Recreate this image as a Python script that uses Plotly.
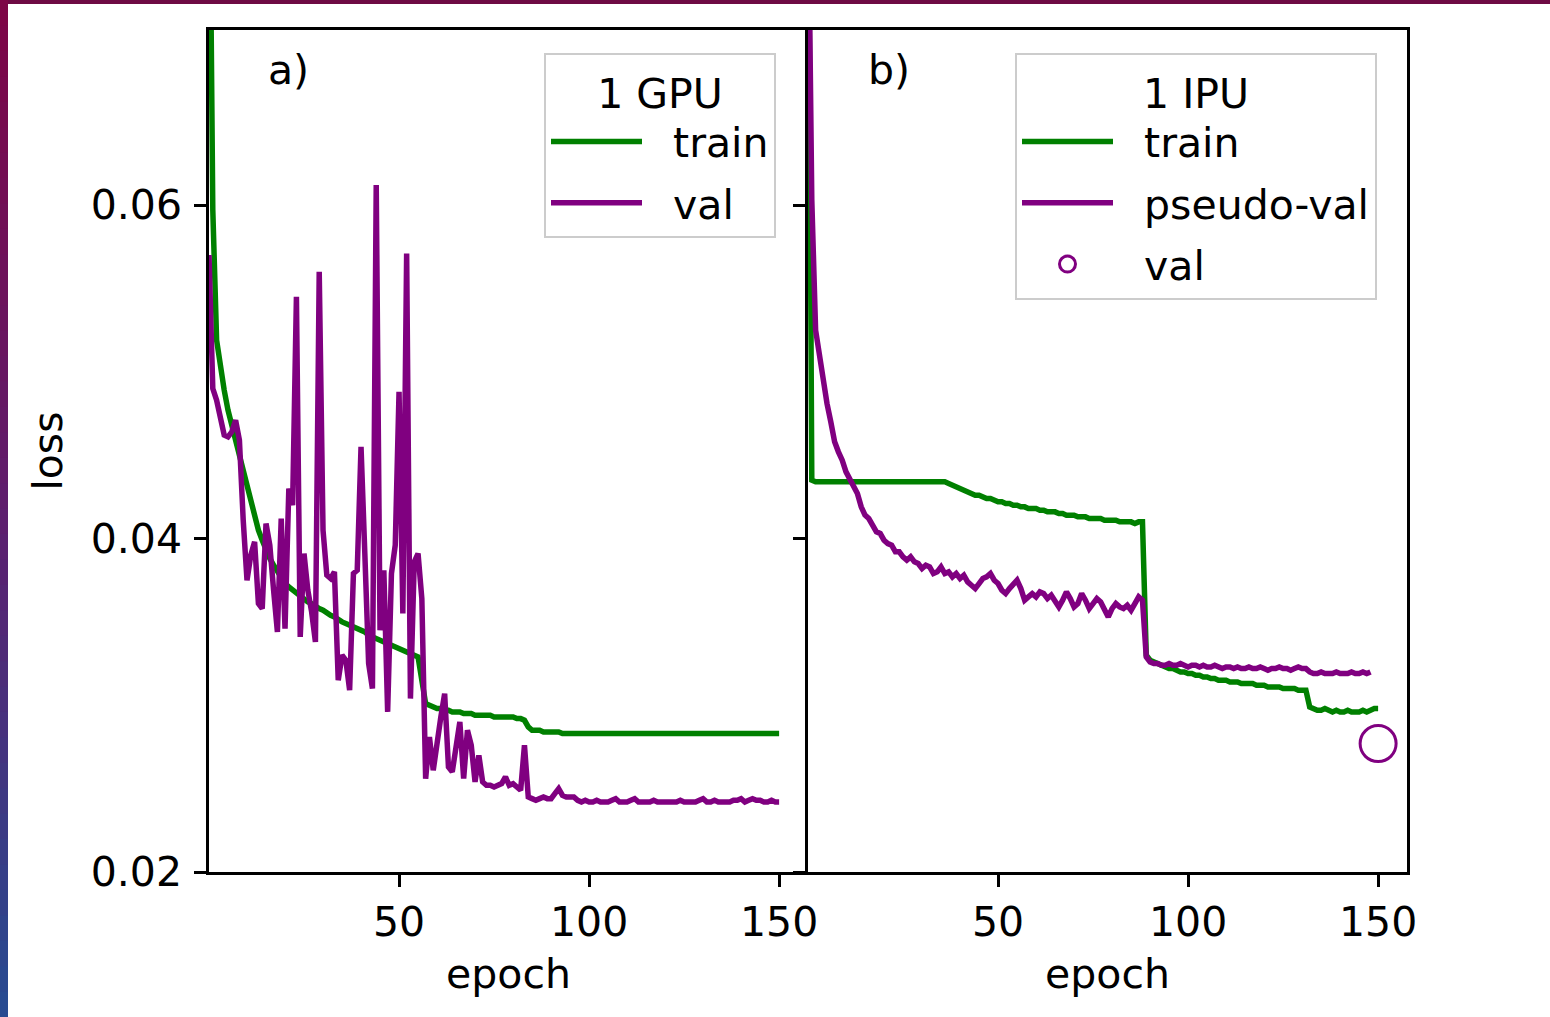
import plotly.graph_objects as go
import numpy as np

# ---------------- data ----------------
gpu_train = [
    0.0850, 0.0597, 0.0519, 0.0501, 0.0489, 0.0477, 0.0468, 0.0459, 0.0447, 0.0438,
    0.0429, 0.0420, 0.0412, 0.0405, 0.0399, 0.0393, 0.0388, 0.0384, 0.0380, 0.0376,
    0.0373, 0.0371, 0.0369, 0.0367, 0.0366, 0.0364, 0.0362, 0.0361, 0.0359, 0.0358,
    0.0357, 0.0355, 0.0354, 0.0353, 0.0351, 0.0350, 0.0349, 0.0348, 0.0347, 0.0346,
    0.0345, 0.0344, 0.0342, 0.0341, 0.0340, 0.0339, 0.0338, 0.0337, 0.0336, 0.0335,
    0.0334, 0.0333, 0.0332, 0.0331, 0.0330, 0.0329, 0.0315, 0.0301, 0.0300, 0.0299,
    0.0298, 0.0298, 0.0297, 0.0297, 0.0296, 0.0296, 0.0296, 0.0295, 0.0295, 0.0295,
    0.0294, 0.0294, 0.0294, 0.0294, 0.0294, 0.0293, 0.0293, 0.0293, 0.0293, 0.0293,
    0.0293, 0.0292, 0.0292, 0.0291, 0.0287, 0.0285, 0.0285, 0.0285, 0.0284, 0.0284,
    0.0284, 0.0284, 0.0284, 0.0283, 0.0283, 0.0283, 0.0283, 0.0283, 0.0283, 0.0283,
    0.0283, 0.0283, 0.0283, 0.0283, 0.0283, 0.0283, 0.0283, 0.0283, 0.0283, 0.0283,
    0.0283, 0.0283, 0.0283, 0.0283, 0.0283, 0.0283, 0.0283, 0.0283, 0.0283, 0.0283,
    0.0283, 0.0283, 0.0283, 0.0283, 0.0283, 0.0283, 0.0283, 0.0283, 0.0283, 0.0283,
    0.0283, 0.0283, 0.0283, 0.0283, 0.0283, 0.0283, 0.0283, 0.0283, 0.0283, 0.0283,
    0.0283, 0.0283, 0.0283, 0.0283, 0.0283, 0.0283, 0.0283, 0.0283, 0.0283, 0.0283,
    0.0283,
]

gpu_val = [
    0.0570, 0.0490, 0.0483, 0.0471, 0.0462, 0.0461, 0.0464, 0.0471, 0.0459, 0.0411,
    0.0375, 0.0390, 0.0398, 0.0361, 0.0358, 0.0409, 0.0396, 0.0369, 0.0344, 0.0412,
    0.0346, 0.0430, 0.0420, 0.0545, 0.0341, 0.0391, 0.0369, 0.0356, 0.0338, 0.0560,
    0.0405, 0.0378, 0.0376, 0.0380, 0.0315, 0.0330, 0.0327, 0.0309, 0.0379, 0.0381,
    0.0455, 0.0391, 0.0325, 0.0310, 0.0612, 0.0345, 0.0381, 0.0296, 0.0379, 0.0396,
    0.0488, 0.0355, 0.0571, 0.0304, 0.0386, 0.0391, 0.0364, 0.0256, 0.0281, 0.0261,
    0.0279, 0.0293, 0.0307, 0.0263, 0.0260, 0.0276, 0.0290, 0.0256, 0.0285, 0.0276,
    0.0254, 0.0270, 0.0254, 0.0252, 0.0252, 0.0251, 0.0252, 0.0253, 0.0257, 0.0252,
    0.0253, 0.0251, 0.0249, 0.0276, 0.0245, 0.0244, 0.0243, 0.0244, 0.0245, 0.0244,
    0.0244, 0.0247, 0.0250, 0.0246, 0.0245, 0.0245, 0.0245, 0.0243, 0.0242, 0.0243,
    0.0242, 0.0242, 0.0243, 0.0242, 0.0242, 0.0242, 0.0243, 0.0244, 0.0242, 0.0242,
    0.0242, 0.0243, 0.0244, 0.0242, 0.0242, 0.0242, 0.0242, 0.0243, 0.0242, 0.0242,
    0.0242, 0.0242, 0.0242, 0.0242, 0.0243, 0.0242, 0.0242, 0.0242, 0.0242, 0.0243,
    0.0244, 0.0242, 0.0242, 0.0243, 0.0242, 0.0242, 0.0242, 0.0242, 0.0243, 0.0243,
    0.0244, 0.0242, 0.0243, 0.0244, 0.0243, 0.0243, 0.0242, 0.0242, 0.0243, 0.0242,
    0.0242,
]

ipu_train = [
    0.0850, 0.0435, 0.0434, 0.0434, 0.0434, 0.0434, 0.0434, 0.0434, 0.0434, 0.0434,
    0.0434, 0.0434, 0.0434, 0.0434, 0.0434, 0.0434, 0.0434, 0.0434, 0.0434, 0.0434,
    0.0434, 0.0434, 0.0434, 0.0434, 0.0434, 0.0434, 0.0434, 0.0434, 0.0434, 0.0434,
    0.0434, 0.0434, 0.0434, 0.0434, 0.0434, 0.0434, 0.0434, 0.0433, 0.0432, 0.0431,
    0.0430, 0.0429, 0.0428, 0.0427, 0.0426, 0.0426, 0.0425, 0.0424, 0.0424, 0.0423,
    0.0422, 0.0422, 0.0421, 0.0421, 0.0420, 0.0420, 0.0419, 0.0419, 0.0418, 0.0418,
    0.0418, 0.0417, 0.0417, 0.0416, 0.0416, 0.0416, 0.0415, 0.0415, 0.0414, 0.0414,
    0.0414, 0.0413, 0.0413, 0.0413, 0.0412, 0.0412, 0.0412, 0.0412, 0.0411, 0.0411,
    0.0411, 0.0411, 0.0410, 0.0410, 0.0410, 0.0410, 0.0409, 0.0410, 0.0410, 0.0330,
    0.0327, 0.0326, 0.0325, 0.0324, 0.0323, 0.0322, 0.0322, 0.0321, 0.0320, 0.0320,
    0.0319, 0.0319, 0.0318, 0.0318, 0.0317, 0.0317, 0.0316, 0.0316, 0.0315, 0.0315,
    0.0315, 0.0314, 0.0314, 0.0314, 0.0313, 0.0313, 0.0313, 0.0313, 0.0312, 0.0312,
    0.0312, 0.0311, 0.0311, 0.0311, 0.0311, 0.0310, 0.0310, 0.0310, 0.0310, 0.0309,
    0.0309, 0.0309, 0.0299, 0.0298, 0.0297, 0.0297, 0.0298, 0.0297, 0.0296, 0.0297,
    0.0296, 0.0296, 0.0297, 0.0296, 0.0296, 0.0296, 0.0297, 0.0296, 0.0297, 0.0298,
    0.0298,
]

ipu_pseudo_val = [
    0.0800, 0.0603, 0.0525, 0.0509, 0.0493, 0.0481, 0.0470, 0.0458, 0.0452, 0.0447,
    0.0440, 0.0436, 0.0432, 0.0427, 0.0419, 0.0414, 0.0412, 0.0408, 0.0404, 0.0403,
    0.0399, 0.0397, 0.0396, 0.0392, 0.0392, 0.0389, 0.0387, 0.0389, 0.0386, 0.0385,
    0.0382, 0.0384, 0.0383, 0.0379, 0.0380, 0.0383, 0.0379, 0.0380, 0.0377, 0.0379,
    0.0376, 0.0378, 0.0374, 0.0372, 0.0370, 0.0373, 0.0376, 0.0377, 0.0379, 0.0375,
    0.0373, 0.0369, 0.0367, 0.0370, 0.0373, 0.0375, 0.0370, 0.0363, 0.0365, 0.0367,
    0.0365, 0.0368, 0.0367, 0.0364, 0.0366, 0.0363, 0.0359, 0.0363, 0.0368, 0.0364,
    0.0359, 0.0361, 0.0367, 0.0363, 0.0358, 0.0361, 0.0364, 0.0362, 0.0357, 0.0353,
    0.0358, 0.0361, 0.0359, 0.0358, 0.0360, 0.0357, 0.0361, 0.0365, 0.0363, 0.0329,
    0.0326, 0.0325, 0.0325, 0.0324, 0.0324, 0.0325, 0.0324, 0.0324, 0.0325, 0.0324,
    0.0323, 0.0324, 0.0324, 0.0323, 0.0324, 0.0323, 0.0323, 0.0324, 0.0323, 0.0322,
    0.0323, 0.0323, 0.0322, 0.0323, 0.0322, 0.0322, 0.0323, 0.0322, 0.0322, 0.0323,
    0.0322, 0.0321, 0.0322, 0.0322, 0.0323, 0.0322, 0.0322, 0.0321, 0.0322, 0.0323,
    0.0322, 0.0322, 0.0320, 0.0319, 0.0319, 0.0320, 0.0319, 0.0319, 0.0319, 0.0320,
    0.0319, 0.0319, 0.0319, 0.0320, 0.0319, 0.0319, 0.0320, 0.0319, 0.0320,
]

ipu_val_epoch = [150]
ipu_val = [0.0277]

x_ticks = [50, 100, 150]
y_ticks = [0.02, 0.04, 0.06]

# ---------------- styling ----------------
FONT = "DejaVu Sans"
GREEN = "#008000"
PURPLE = "#800080"
LW = 5.5
FS = 41
GAP = "\u00a0\u00a0"  # extra room between legend sample and its label

W, H = 1550, 1017
ML, MR, MT, MB = 209, 143, 30, 145
PW, PH = W - ML - MR, H - MT - MB


def px_x(px):
    return (px - ML) / PW


def px_y(py):
    return (H - MB - py) / PH


fig = go.Figure()

fig.add_trace(go.Scatter(x=list(range(len(gpu_train))), y=gpu_train, mode="lines",
                         line=dict(color=GREEN, width=LW), name=GAP + "train",
                         xaxis="x", yaxis="y", legend="legend", legendgroup="a1"))
fig.add_trace(go.Scatter(x=list(range(len(gpu_val))), y=gpu_val, mode="lines",
                         line=dict(color=PURPLE, width=LW), name=GAP + "val",
                         xaxis="x", yaxis="y", legend="legend", legendgroup="a2"))

fig.add_trace(go.Scatter(x=list(range(len(ipu_train))), y=ipu_train, mode="lines",
                         line=dict(color=GREEN, width=LW), name=GAP + "train",
                         xaxis="x2", yaxis="y2", legend="legend2", legendgroup="b1"))
fig.add_trace(go.Scatter(x=list(range(len(ipu_pseudo_val))), y=ipu_pseudo_val, mode="lines",
                         line=dict(color=PURPLE, width=LW), name=GAP + "pseudo-val",
                         xaxis="x2", yaxis="y2", legend="legend2", legendgroup="b2"))
fig.add_trace(go.Scatter(x=ipu_val_epoch, y=ipu_val, mode="markers",
                         marker=dict(symbol="circle-open", size=36, color=PURPLE,
                                     line=dict(width=3, color=PURPLE)),
                         name=GAP + "val", xaxis="x2", yaxis="y2", legend="legend2",
                         legendgroup="b3", cliponaxis=False))

axis_common = dict(
    ticks="outside", ticklen=12, tickwidth=2.5, tickcolor="black",
    showline=True, linecolor="black", linewidth=2.5,
    showgrid=False, zeroline=False,
    tickfont=dict(family=FONT, size=FS, color="black"),
)
title_font = dict(family=FONT, size=FS, color="black")

legend_common = dict(
    xanchor="left", yanchor="top", font=title_font,
    bgcolor="rgba(255,255,255,0.8)", bordercolor="#cccccc", borderwidth=2,
    itemwidth=91, tracegroupgap=5,
)

fig.update_layout(
    width=W, height=H,
    margin=dict(l=ML, r=MR, t=MT, b=MB, pad=0),
    paper_bgcolor="white", plot_bgcolor="white",
    font=dict(family=FONT, color="black"),
    xaxis=dict(domain=[0, 0.5], range=[0, 157.6], tickvals=x_ticks, anchor="y", mirror=True,
               title=dict(text="epoch", font=title_font, standoff=15), **axis_common),
    xaxis2=dict(domain=[0.5, 1], range=[0, 157.6], tickvals=x_ticks, anchor="y2", mirror=True,
                title=dict(text="epoch", font=title_font, standoff=15), **axis_common),
    yaxis=dict(range=[0.02, 0.0705], tickvals=y_ticks, tickformat=".2f", anchor="x",
               mirror=False, ticklabelstandoff=4,
               title=dict(text="loss", font=title_font, standoff=16), **axis_common),
    yaxis2=dict(range=[0.02, 0.0705], tickvals=y_ticks, anchor="x2", matches="y",
                mirror=True, showticklabels=False, **axis_common),
    legend=dict(x=px_x(544), y=px_y(53),
                title=dict(text="1 GPU", side="top center", font=title_font),
                **legend_common),
    legend2=dict(x=px_x(1015), y=px_y(53),
                 title=dict(text="1 IPU", side="top center", font=title_font),
                 **legend_common),
    annotations=[
        dict(text="a)", xref="x domain", yref="y domain", x=(266 - 209) / 599, y=px_y(70),
             xanchor="left", yanchor="middle", showarrow=False,
             font=dict(family=FONT, size=FS, color="black")),
        dict(text="b)", xref="x2 domain", yref="y2 domain", x=(866 - 808) / 599, y=px_y(70),
             xanchor="left", yanchor="middle", showarrow=False,
             font=dict(family=FONT, size=FS, color="black")),
    ],
)

# decorative frame strips of the slide (top bar and gradient left bar)
shapes = []
shapes.append(dict(type="rect", xref="paper", yref="paper",
                   x0=px_x(0), x1=px_x(W), y0=px_y(4), y1=px_y(0),
                   fillcolor="#6e0a44", line=dict(width=0), layer="above"))
top_c = np.array([125, 5, 70])
mid_c = np.array([95, 30, 110])
bot_c = np.array([40, 75, 145])
n_seg = 40
for i in range(n_seg):
    t = i / (n_seg - 1)
    if t < 0.5:
        c = top_c + (mid_c - top_c) * (t / 0.5)
    else:
        c = mid_c + (bot_c - mid_c) * ((t - 0.5) / 0.5)
    y0p = H * i / n_seg
    y1p = H * (i + 1) / n_seg + 1
    shapes.append(dict(type="rect", xref="paper", yref="paper",
                       x0=px_x(0), x1=px_x(8), y0=px_y(y1p), y1=px_y(y0p),
                       fillcolor="rgb(%d,%d,%d)" % tuple(int(v) for v in c),
                       line=dict(width=0), layer="above"))
fig.update_layout(shapes=shapes)

fig.write_html("out.html",
               config={"displayModeBar": False},
               post_script="document.body.style.margin='0px';document.body.style.overflow='hidden';")
